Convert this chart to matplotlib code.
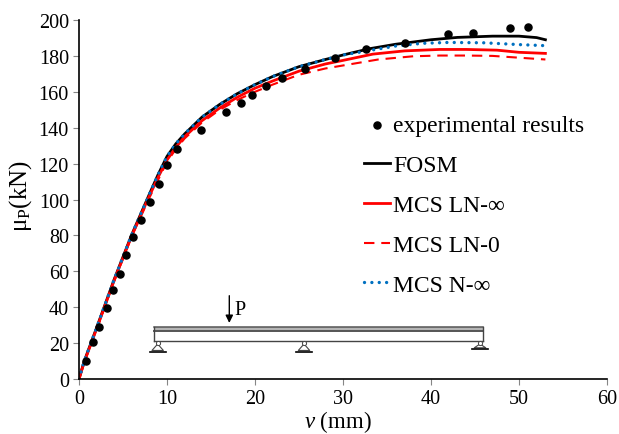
import matplotlib
matplotlib.use("Agg")
import matplotlib.pyplot as plt

plt.rcParams['font.family'] = ['Liberation Serif', 'DejaVu Serif']
plt.rcParams['mathtext.fontset'] = 'custom'
plt.rcParams['mathtext.rm'] = 'Liberation Serif'
plt.rcParams['mathtext.it'] = 'Liberation Serif:italic'

# experimental points
exp_v = [0.76, 1.55, 2.27, 3.14, 3.83, 4.66, 5.34, 6.14, 7.05, 8.07, 9.05, 10.0, 11.17,
         13.86, 16.67, 18.37, 19.66, 21.2, 23.1, 25.7, 29.1, 32.6, 37.0, 41.9, 44.8, 49.0, 51.0]
exp_p = [10.2, 20.6, 29.2, 39.4, 49.6, 58.3, 69, 79, 88.4, 98.4, 108.4, 119, 128,
         138.7, 148.6, 154, 158, 163, 167.7, 172.7, 178.8, 183.6, 187, 192, 193, 195.8, 196]

fosm_v = [0, 0.6, 2, 4, 6, 8, 9, 10, 11, 12, 14, 16, 18, 20, 22, 25, 28, 30, 33, 36, 40, 43, 47, 50, 52, 53]
fosm_p = [0, 10, 28.5, 55.5, 80.5, 103, 114, 124, 131, 136.5, 146, 153, 159, 164, 168.5, 174, 178, 180.5, 184,
          186.5, 189, 190.3, 191, 191, 190.2, 189]

lninf_v = [0, 0.6, 2, 4, 6, 8, 9, 10, 11, 12, 14, 16, 18, 20, 22, 25, 28, 30, 33.4, 37, 41, 44, 47.5, 50, 53]
lninf_p = [0, 9.5, 28, 55, 80, 102, 112.5, 122, 129, 135, 144, 151, 157, 162, 166, 171.5, 175.5, 177.5, 181,
           182.8, 183.6, 183.6, 183.2, 182, 181.4]

ln0_v = [0, 0.6, 2, 4, 6, 8, 9, 10, 11, 12, 14, 16, 18, 20, 22, 25, 28, 30.4, 34, 38, 41, 44, 47, 50, 53]
ln0_p = [0, 9.5, 27.5, 54.5, 79.5, 101, 111, 121, 128, 134, 143, 150, 155.5, 160, 164, 169.5, 173, 175, 178,
         179.8, 180.2, 180.2, 180, 179, 178]

ninf_v = [0, 0.6, 2, 4, 6, 8, 9, 10, 11, 12, 14, 16, 18, 20, 22, 25, 28, 30, 33, 36, 39, 42, 46, 50, 53]
ninf_p = [0, 10, 28.5, 55.5, 80.5, 103, 114, 124, 131, 136.5, 146, 153, 159, 164, 168.5, 174, 178, 180.5, 183,
          185.5, 187, 187.5, 187.3, 186.3, 185.7]

x_ticks = [0, 10, 20, 30, 40, 50, 60]
y_ticks = [0, 20, 40, 60, 80, 100, 120, 140, 160, 180, 200]

W, H = 619, 435
fig = plt.figure(figsize=(W / 100, H / 100), dpi=100)
ax = fig.add_axes([79 / W, 1 - 380 / H, 528 / W, 359 / H])

ax.plot(fosm_v, fosm_p, color='black', lw=2.0, label='FOSM')
ax.plot(lninf_v, lninf_p, color='#ff0000', lw=2.0, label='MCS LN-∞')
ax.plot(ln0_v, ln0_p, color='#ff0000', lw=1.5, dashes=(5, 3.3), label='MCS LN-0')
ax.plot(ninf_v, ninf_p, color='#0070c0', lw=2.4, linestyle=(0, (0.01, 2.2)), dash_capstyle='round', label='MCS N-∞')
ax.scatter(exp_v, exp_p, color='black', s=26, zorder=5, label='experimental results')

ax.set_xlim(0, 60)
ax.set_ylim(0, 200)
ax.set_xticks(x_ticks)
ax.set_yticks(y_ticks)
ax.tick_params(labelsize=14.5, length=4.3, width=0.8, color='#868686', pad=3)
ax.spines['top'].set_visible(False)
ax.spines['right'].set_visible(False)
ax.spines['left'].set_linewidth(1.2)
ax.spines['bottom'].set_linewidth(1.2)
ax.set_xlabel('$\\mathit{v}$ (mm)', fontsize=16.5, labelpad=0, x=0.491)
ax.set_ylabel('μ$_{\\mathrm{P}}$(kN)', fontsize=18, labelpad=3, y=0.5125)

handles, labels = ax.get_legend_handles_labels()
order = [4, 0, 1, 2, 3]
ax.legend([handles[i] for i in order], [labels[i] for i in order], frameon=False, fontsize=17,
          loc='upper left', bbox_to_anchor=(0.54, 0.737), handlelength=1.1, handletextpad=0.14,
          labelspacing=0.78, borderpad=0, borderaxespad=0, scatterpoints=1)

# beam sketch
ax.fill_between([8.55, 45.95], 26.9, 29.1, color='#b5b5b5', lw=0)
ax.plot([8.55, 45.95], [29.1, 29.1], color='#555555', lw=1.1)
ax.plot([8.55, 45.95], [27, 27], color='#555555', lw=1.4)
ax.plot([8.55, 45.95], [21, 21], color='#444444', lw=1)
ax.plot([8.55, 8.55], [21, 29.1], color='#444444', lw=1)
ax.plot([45.95, 45.95], [21, 29.1], color='#444444', lw=1)
for sx, base in [(8.94, 15.2), (25.57, 15.2), (45.57, 16.7)]:
    ax.plot([sx, sx - 0.65, sx + 0.65, sx], [19.5, base + 0.7, base + 0.7, 19.5], color='#444444', lw=0.8)
    ax.plot([sx], [20], marker='o', ms=3, mfc='white', mec='#444444', mew=0.7)
    ax.plot([sx - 0.9, sx + 0.9], [base, base], color='black', lw=1.2)
ax.annotate('', xy=(17.08, 31.2), xytext=(17.08, 46.4),
            arrowprops=dict(arrowstyle='-|>,head_width=0.22,head_length=0.45', color='black', lw=1, shrinkA=0, shrinkB=0))
ax.text(17.65, 38.6, 'P', fontsize=14.5, va='center', ha='left')

fig.savefig('out.png', dpi=100)
